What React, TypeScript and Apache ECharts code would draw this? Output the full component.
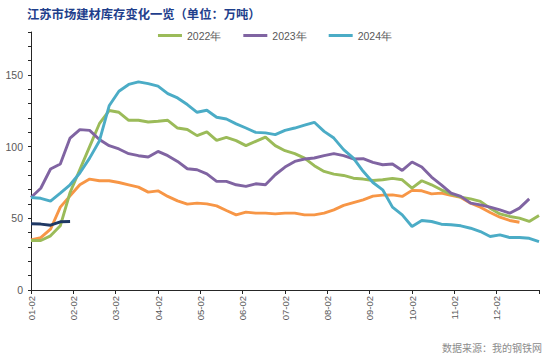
import React, { useEffect, useRef } from "react";
import * as echarts from "echarts";

const monthLabels = ["01-02", "02-02", "03-02", "04-02", "05-02", "06-02", "07-02", "08-02", "09-02", "10-02", "11-02", "12-02"];
const WEEKS_PER_YEAR = 52;

const s2021 = [35, 36.6, 42.4, 57.8, 65.7, 73.4, 77.4, 76.2, 76.2, 75, 73.4, 71.8, 68.3, 69.2, 65.3, 62.2, 59.9, 60.6, 60.1, 58.7, 55.5, 52.4, 54.3, 53.6, 53.6, 53.1, 53.6, 53.6, 52.4, 52.4, 53.6, 55.9, 59, 61, 62.9, 65.5, 66.2, 66.4, 65.3, 69.5, 69.2, 67.1, 67.6, 66, 64.6, 60.6, 57.8, 54.1, 50.8, 48.5, 47.3];
const s2022 = [34.5, 34.5, 37.8, 44.8, 68, 84, 100, 116, 125.2, 124, 118.4, 118.4, 117.2, 117.7, 118.4, 113, 112, 107.7, 110.3, 104.4, 106.5, 104.2, 100.7, 103.7, 106.7, 100.7, 97.2, 95.1, 92, 86.7, 82.7, 80.8, 79.9, 78, 77.4, 76.4, 76.9, 77.9, 76.9, 71.1, 76.2, 73.4, 69.9, 66.9, 64.8, 63.6, 61.8, 57.1, 53.1, 51.3, 50.1, 47.8, 52];
const s2023 = [64.5, 71, 84.4, 87.9, 106, 111.9, 111.4, 105, 100.7, 98.4, 95.1, 93.7, 92.8, 96.7, 93.7, 89.7, 84.6, 83.9, 81, 75.8, 75.8, 73.4, 72.3, 74.1, 73.4, 80.4, 85.8, 89.7, 91.4, 92.1, 93.7, 95.1, 93.7, 91.4, 91.6, 89, 87.4, 87.9, 83.4, 89.3, 85.8, 78.8, 73.4, 67.6, 65.3, 60.6, 59.4, 57.8, 55.9, 53.6, 57.1, 63.6];
const s2024 = [64.5, 64, 62, 67.6, 73.4, 81.6, 92, 104, 128.5, 138.7, 143.4, 145.2, 144, 142.2, 137, 134, 129.4, 124, 125.4, 120.5, 119.3, 115.9, 113, 110, 109.6, 108.4, 111.4, 113, 115, 117, 110.7, 106, 97.9, 92, 82.8, 75, 69.9, 57.8, 52.4, 44.3, 48.5, 47.8, 45.9, 45.5, 44.8, 43.1, 40.8, 37.3, 38.5, 36.6, 36.6, 36.1, 33.8];
const s2025 = [46.2, 46, 45.2, 47.6, 47.8];

const toPoints = (arr: number[]) => arr.map((v, i) => [(i * 12) / WEEKS_PER_YEAR, v]);

export default function App() {
  const ref = useRef<HTMLDivElement>(null);
  useEffect(() => {
    document.body.style.margin = "0";
    if (!ref.current) return;
    const chart = echarts.init(ref.current, undefined, { renderer: "svg" });
    const line = (name: string, data: number[], color: string) => ({
      name,
      type: "line",
      data: toPoints(data),
      showSymbol: false,
      symbol: "none",
      lineStyle: { color, width: 2.9 },
      itemStyle: { color },
    });
    chart.setOption({
      animation: false,
      backgroundColor: "#ffffff",
      title: {
        text: "江苏市场建材库存变化一览（单位：万吨）",
        left: 27,
        top: 8,
        padding: 0,
        textStyle: { fontFamily: "Noto Sans CJK SC", fontSize: 12.3, fontWeight: "bold", color: "#1f3f8c" },
      },
      legend: {
        data: ["2022年", "2023年", "2024年"],
        left: "center",
        top: 25,
        itemWidth: 24,
        itemHeight: 3,
        itemGap: 22,
        icon: "rect",
        textStyle: { fontFamily: "Liberation Sans", fontSize: 10.5, color: "#595959" },
      },
      graphic: [
        {
          type: "text",
          right: 8,
          top: 342,
          style: { text: "数据来源：我的钢铁网", fontFamily: "Noto Sans CJK SC", fontSize: 10, fill: "#8c8c8c" },
        },
      ],
      grid: { left: 31, right: 11, top: 32, bottom: 69 },
      xAxis: {
        type: "value",
        min: 0,
        max: 12,
        interval: 1,
        axisLine: { show: true, lineStyle: { color: "#262626", width: 1 } },
        axisTick: { show: true, length: 4, lineStyle: { color: "#262626" } },
        splitLine: { show: false },
        axisLabel: {
          rotate: 90,
          margin: 6,
          fontFamily: "Liberation Sans",
          fontSize: 9.5,
          color: "#595959",
          formatter: (v: number) => (Number.isInteger(v) && v < 12 ? monthLabels[v] : ""),
        },
      },
      yAxis: {
        type: "value",
        min: 0,
        max: 180,
        interval: 10,
        axisLine: { show: true, lineStyle: { color: "#262626", width: 1 } },
        axisTick: { show: true, length: 3, lineStyle: { color: "#262626" } },
        splitLine: { show: false },
        axisLabel: {
          margin: 8,
          fontFamily: "Liberation Sans",
          fontSize: 10.5,
          color: "#595959",
          formatter: (v: number) => (v % 50 === 0 ? String(v) : ""),
        },
      },
      series: [
        line("2021年", s2021, "#f79646"),
        line("2022年", s2022, "#9bbb59"),
        line("2023年", s2023, "#8064a2"),
        line("2024年", s2024, "#4bacc6"),
        line("2025年", s2025, "#1f3864"),
      ],
    });
    return () => chart.dispose();
  }, []);
  return <div ref={ref} style={{ width: 550, height: 359 }} />;
}
